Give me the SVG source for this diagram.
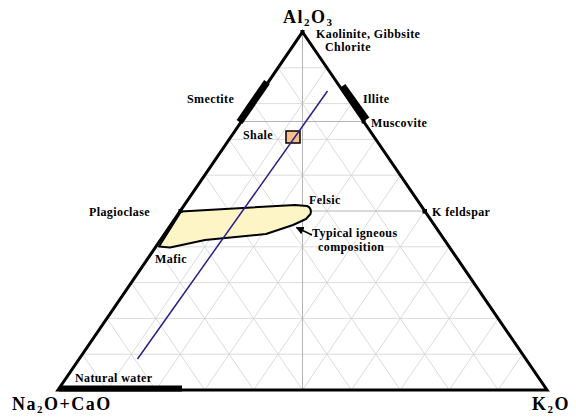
<svg xmlns="http://www.w3.org/2000/svg" width="576" height="418" viewBox="0 0 576 418">
<defs>
<style>
.grid{stroke:#d2d2d2;stroke-width:0.8;fill:none}
.grid2{stroke:#b4b4b4;stroke-width:1;fill:none}
.edge{stroke:#000;stroke-width:3;fill:none;stroke-linejoin:miter}
.bar{stroke:#000;stroke-width:7;fill:none}
.lbl{font-family:"Liberation Serif","Times New Roman",serif;font-weight:bold;font-size:12px;letter-spacing:0.4px;fill:#000}
.big{font-family:"Liberation Serif","Times New Roman",serif;font-weight:bold;font-size:18px;letter-spacing:1.5px;fill:#000}
.sub{font-size:11px}
.pt{fill:#000}
</style>
<marker id="ah" viewBox="0 0 10 10" refX="9" refY="5" markerWidth="8" markerHeight="8" orient="auto" markerUnits="userSpaceOnUse">
<path d="M0,0 L10,5 L0,10 z" fill="#000"/>
</marker>
</defs>
<rect width="576" height="418" fill="#fff"/>
<g id="grid">
<path class="grid" d="M82.45,354.2H522.55M106.9,318.4H498.1M131.35,282.6H473.65M155.8,246.8H449.2M204.7,175.2H400.3M229.15,139.4H375.85M253.6,103.6H351.4M278.05,67.8H326.95"/>
<path class="grid" d="M106.9,390L326.95,67.8M155.8,390L351.4,103.6M204.7,390L375.85,139.4M253.6,390L400.3,175.2M302.5,390L424.75,211M351.4,390L449.2,246.8M400.3,390L473.65,282.6M449.2,390L498.1,318.4M498.1,390L522.55,354.2"/>
<path class="grid" d="M106.9,390L82.45,354.2M155.8,390L106.9,318.4M204.7,390L131.35,282.6M253.6,390L155.8,246.8M302.5,390L180.25,211M351.4,390L204.7,175.2M400.3,390L229.15,139.4M449.2,390L253.6,103.6M498.1,390L278.05,67.8"/>
<path class="grid2" d="M302.5,32V390M180.25,211H424.75M241.4,121.5H363.6"/>
</g>
<g id="igneous">
<path d="M181,211.5 L295,205 L307,206 Q312,208 310.5,214 L306,219 L293,225 L266,234 L205,240 L170,247.5 L159,246.5 Z" fill="#fdf5c6" stroke="#000" stroke-width="2" stroke-linejoin="round"/>
</g>
<g id="triangle">
<path class="edge" d="M302.5,32 L547,390 L58,390 Z"/>
<path class="bar" d="M267,82 L239.5,122"/>
<path class="bar" d="M342.5,86 L366.5,119.5"/>
<path d="M59,391.5 L182,391.5 L182,385.5 L62,385.5 Z" fill="#000"/>
</g>
<g id="shale">
<rect x="286" y="131" width="14" height="12" fill="#f6c28c" stroke="#000" stroke-width="1.5"/>
</g>
<g id="connectors">
<line x1="137.5" y1="359" x2="327.5" y2="91" stroke="#2a1f86" stroke-width="1.5"/>
<line x1="312" y1="235" x2="296.5" y2="227.5" stroke="#000" stroke-width="1.5" marker-end="url(#ah)"/>
</g>
<g id="points">
<rect class="pt" x="300.5" y="30" width="4" height="4"/>
<rect class="pt" x="361.6" y="119.5" width="4" height="4"/>
<rect class="pt" x="422.5" y="209" width="4.5" height="4.5"/>
<rect class="pt" x="178.5" y="209" width="4" height="4"/>
</g>
<g id="node-al2o3"><text class="big" x="283" y="23">Al<tspan class="sub" dy="3">2</tspan><tspan dy="-3">O</tspan><tspan class="sub" dy="3">3</tspan></text></g>
<g id="node-na2o"><text class="big" x="12" y="410">Na<tspan class="sub" dy="3">2</tspan><tspan dy="-3">O+CaO</tspan></text></g>
<g id="node-k2o"><text class="big" x="532" y="410">K<tspan class="sub" dy="3">2</tspan><tspan dy="-3">O</tspan></text></g>
<g id="node-kaolinite"><text class="lbl" x="316" y="38" font-size="11.5" letter-spacing="1">Kaolinite, Gibbsite</text><text class="lbl" x="325" y="51" font-size="11.5" letter-spacing="0.6">Chlorite</text></g>
<g id="node-smectite"><text class="lbl" x="187" y="103">Smectite</text></g>
<g id="node-illite"><text class="lbl" x="363" y="103">Illite</text></g>
<g id="node-muscovite"><text class="lbl" x="371" y="127">Muscovite</text></g>
<g id="node-shale"><text class="lbl" x="243" y="139">Shale</text></g>
<g id="node-plagioclase"><text class="lbl" x="89" y="216">Plagioclase</text></g>
<g id="node-felsic"><text class="lbl" x="309" y="204">Felsic</text></g>
<g id="node-kfeldspar"><text class="lbl" x="432" y="216">K feldspar</text></g>
<g id="node-typical"><text class="lbl" x="312" y="237">Typical igneous</text><text class="lbl" x="318" y="251">composition</text></g>
<g id="node-mafic"><text class="lbl" x="155" y="263">Mafic</text></g>
<g id="node-water"><text class="lbl" x="75" y="381.5">Natural water</text></g>
</svg>
